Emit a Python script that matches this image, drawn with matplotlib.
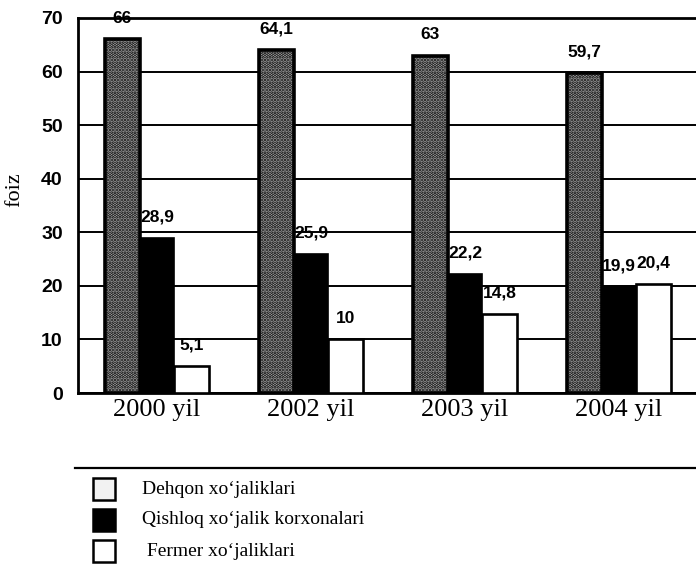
import numpy as np
import matplotlib.pyplot as plt
from matplotlib.patches import Rectangle
from matplotlib.lines import Line2D

# ---------- DATA ----------
years = ["2000 yil", "2002 yil", "2003 yil", "2004 yil"]
series_names = ["Dehqon xo‘jaliklari", "Qishloq xo‘jalik korxonalari", " Fermer xo‘jaliklari"]
dehqon = [66, 64.1, 63, 59.7]
qishloq = [28.9, 25.9, 22.2, 19.9]
fermer = [5.1, 10, 14.8, 20.4]
yticks = [0, 10, 20, 30, 40, 50, 60, 70]

# ---------- STYLE ----------
plt.rcParams['hatch.linewidth'] = 1.8
sans = 'Liberation Sans'
serif = 'Liberation Serif'

fig = plt.figure(figsize=(6.96, 5.79), dpi=100)
ax = fig.add_axes([78/696, 1 - 393/579, 1 - 78/696, (393 - 18)/579])

x = np.arange(len(years))
w = 0.226
styles = [
    dict(facecolor='#b4b4b4', edgecolor='black', hatch='.....', linewidth=2.6),
    dict(facecolor='black', edgecolor='black', linewidth=1.2),
    dict(facecolor='white', edgecolor='black', linewidth=1.9),
]

for i, (vals, st) in enumerate(zip([dehqon, qishloq, fermer], styles)):
    bars = ax.bar(x + (i - 1) * w, vals, width=w, zorder=3, **st)
    for b, v in zip(bars, vals):
        ax.annotate(f"{v:g}".replace('.', ','),
                    (b.get_x() + b.get_width() / 2, v),
                    xytext=(0, 15), textcoords='offset points',
                    ha='center', va='center', fontsize=12.5,
                    fontweight='bold', family=sans, zorder=5)

ax.set_xlim(-0.513, 3.5)
ax.set_ylim(0, 70)
ax.set_yticks(yticks)
ax.set_yticklabels([str(t) for t in yticks], family=sans, fontweight='bold', fontsize=14)
ax.set_xticks(x)
ax.set_xticklabels(years, family=serif, fontsize=19)
ax.tick_params(axis='y', length=0, pad=11)
ax.tick_params(axis='x', length=0, pad=4)

ax.grid(axis='y', color='black', linewidth=1.4, zorder=0)
ax.set_axisbelow(True)
for side in ['left', 'top', 'bottom']:
    ax.spines[side].set_linewidth(2)
ax.spines['right'].set_visible(False)

fig.text(15/696, 1 - 190/579, "foiz", rotation=90, ha='center', va='center',
         family=serif, fontsize=16)

# ---------- LEGEND ----------
fig.add_artist(Line2D([75/696, 1.0], [1 - 468/579] * 2, color='black',
                      linewidth=1.6, transform=fig.transFigure))

legend_faces = [
    dict(facecolor='#f2f2f2', edgecolor='black', linewidth=1.8),
    dict(facecolor='black', edgecolor='black', linewidth=1.8),
    dict(facecolor='white', edgecolor='black', linewidth=1.8),
]
rows = [489, 520, 551]
for name, st, yc in zip(series_names, legend_faces, rows):
    fig.add_artist(Rectangle((93/696, 1 - (yc + 11)/579), 22/696, 22/579,
                             transform=fig.transFigure, **st))
    fig.text(142/696, 1 - yc/579, name, ha='left', va='center',
             family=serif, fontsize=14)

fig.savefig("out.png", dpi=100)
